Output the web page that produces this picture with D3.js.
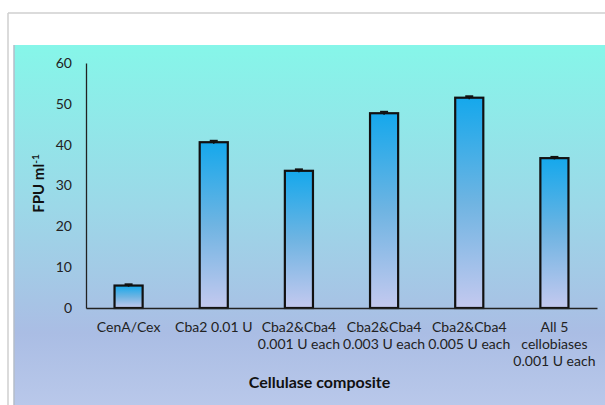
<!DOCTYPE html>
<html>
<head>
<meta charset="utf-8">
<script src="https://cdn.jsdelivr.net/npm/d3@7"></script>
<style>
  body { margin: 0; background: #fff; }
  text { font-family: Lato, "Open Sans", sans-serif; }
</style>
</head>
<body>
<div class="chart"></div>
<script>
var categories = [
  ["CenA/Cex"],
  ["Cba2 0.01 U"],
  ["Cba2&Cba4", "0.001 U each"],
  ["Cba2&Cba4", "0.003 U each"],
  ["Cba2&Cba4", "0.005 U each"],
  ["All 5", "cellobiases", "0.001 U each"]
];
var values = [5.5, 40.6, 33.6, 47.7, 51.5, 36.7];
var errors = [0.3, 0.35, 0.35, 0.35, 0.35, 0.3];
var yTicks = [0, 10, 20, 30, 40, 50, 60];

var svgWidth = 605;
var svgHeight = 405;

var margin = { top: 63, right: 8, bottom: 97, left: 86 };
var width = svgWidth - margin.left - margin.right;
var height = svgHeight - margin.top - margin.bottom;

var svg = d3.select(".chart")
  .append("svg")
  .attr("width", svgWidth)
  .attr("height", svgHeight);

var defs = svg.append("defs");

// background gradient of the plot panel
var bg = defs.append("linearGradient")
  .attr("id", "bgGrad")
  .attr("x1", 0).attr("y1", 0).attr("x2", 0).attr("y2", 1);
bg.append("stop").attr("offset", "0%").attr("stop-color", "#86f6e9");
bg.append("stop").attr("offset", "45%").attr("stop-color", "#9cd8e8");
bg.append("stop").attr("offset", "80%").attr("stop-color", "#aabde4");
bg.append("stop").attr("offset", "100%").attr("stop-color", "#b9c8ea");

// bar gradient
var barGrad = defs.append("linearGradient")
  .attr("id", "barGrad")
  .attr("x1", 0).attr("y1", 0).attr("x2", 0).attr("y2", 1);
barGrad.append("stop").attr("offset", "0%").attr("stop-color", "#15a8ec");
barGrad.append("stop").attr("offset", "50%").attr("stop-color", "#6fb4e2");
barGrad.append("stop").attr("offset", "100%").attr("stop-color", "#c4c9ef");

// outer frame
svg.append("line")
  .attr("x1", 8).attr("y1", 13).attr("x2", svgWidth).attr("y2", 13)
  .attr("stroke", "#cfcfcf").attr("stroke-width", 1.5);
svg.append("line")
  .attr("x1", 8).attr("y1", 13).attr("x2", 8).attr("y2", svgHeight)
  .attr("stroke", "#cfcfcf").attr("stroke-width", 1.5);

// panel
svg.append("rect")
  .attr("x", 14).attr("y", 45)
  .attr("width", svgWidth - 14).attr("height", svgHeight - 45)
  .attr("fill", "url(#bgGrad)");
svg.append("line")
  .attr("x1", 14).attr("y1", 45).attr("x2", 14).attr("y2", svgHeight)
  .attr("stroke", "#b4bcc8").attr("stroke-width", 1.5);

var chartGroup = svg.append("g")
  .attr("transform", `translate(${margin.left}, ${margin.top})`);

var xScale = d3.scaleBand()
  .domain(d3.range(categories.length))
  .range([0, width])
  .paddingInner(0.67)
  .paddingOuter(0.335);

var yScale = d3.scaleLinear()
  .domain([0, 60])
  .range([height, 0]);

// y axis
var leftAxis = d3.axisLeft(yScale).tickValues(yTicks).tickSize(0).tickPadding(14);
var yAxis = chartGroup.append("g").call(leftAxis);
yAxis.select(".domain").attr("stroke", "#222").attr("stroke-width", 1.3);
yAxis.selectAll("text").attr("font-size", "14px").attr("fill", "#222")
  .style("font-family", "Lato, sans-serif");

// bars
chartGroup.selectAll("rect.bar")
  .data(values)
  .enter()
  .append("rect")
  .attr("class", "bar")
  .attr("x", (d, i) => xScale(i))
  .attr("y", d => yScale(d))
  .attr("width", xScale.bandwidth())
  .attr("height", d => height - yScale(d))
  .attr("fill", "url(#barGrad)")
  .attr("stroke", "#111")
  .attr("stroke-width", 2.2);

// error bars
var errG = chartGroup.selectAll("g.err")
  .data(values)
  .enter()
  .append("g")
  .attr("class", "err");
errG.append("line")
  .attr("x1", (d, i) => xScale(i) + xScale.bandwidth() / 2)
  .attr("x2", (d, i) => xScale(i) + xScale.bandwidth() / 2)
  .attr("y1", (d, i) => yScale(d + errors[i]))
  .attr("y2", (d, i) => yScale(d - errors[i]))
  .attr("stroke", "#111").attr("stroke-width", 1.5);
errG.append("line")
  .attr("x1", (d, i) => xScale(i) + xScale.bandwidth() / 2 - 4)
  .attr("x2", (d, i) => xScale(i) + xScale.bandwidth() / 2 + 4)
  .attr("y1", (d, i) => yScale(d + errors[i]))
  .attr("y2", (d, i) => yScale(d + errors[i]))
  .attr("stroke", "#111").attr("stroke-width", 2);

// x axis
var bottomAxis = d3.axisBottom(xScale).tickSize(0).tickFormat("");
var xAxis = chartGroup.append("g")
  .attr("transform", `translate(0, ${height})`)
  .call(bottomAxis);
xAxis.select(".domain").attr("stroke", "#222").attr("stroke-width", 1.3);

// x category labels (multi-line)
categories.forEach(function(lines, i) {
  var t = chartGroup.append("text")
    .attr("text-anchor", "middle")
    .attr("font-size", "14px")
    .attr("fill", "#222")
    .attr("transform", `translate(${xScale(i) + xScale.bandwidth() / 2}, ${height + 24})`);
  lines.forEach(function(line, j) {
    t.append("tspan")
      .attr("x", 0)
      .attr("dy", j === 0 ? 0 : 17)
      .text(line);
  });
});

// x axis title
chartGroup.append("text")
  .attr("x", width / 2 - 22)
  .attr("y", height + 80)
  .attr("text-anchor", "middle")
  .attr("font-size", "16px")
  .attr("font-weight", "bold")
  .attr("fill", "#111")
  .text("Cellulase composite");

// y axis title with superscript
var yl = chartGroup.append("text")
  .attr("transform", `translate(-42, ${height / 2 - 2}) rotate(-90)`)
  .attr("text-anchor", "middle")
  .attr("font-size", "15px")
  .attr("font-weight", "bold")
  .attr("fill", "#111");
yl.append("tspan").text("FPU ml");
yl.append("tspan").attr("dy", -5).attr("font-size", "10px").text("-1");
</script>
</body>
</html>
